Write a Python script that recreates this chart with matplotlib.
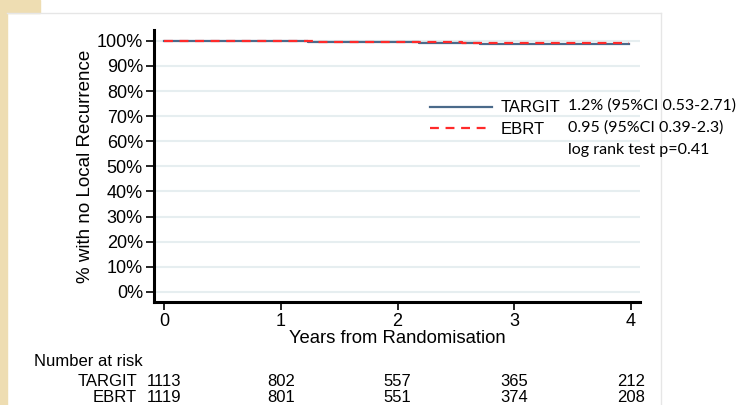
import matplotlib
matplotlib.use("Agg")
import matplotlib.pyplot as plt
from matplotlib.patches import Rectangle
from matplotlib.lines import Line2D

# Data
targit_t = [0, 1.23, 2.18, 2.62, 2.71, 3.98]
targit_s = [100, 99.7, 99.3, 99.0, 98.75, 98.75]
ebrt_t = [0, 1.31, 2.22, 2.55, 3.98]
ebrt_s = [100, 99.7, 99.4, 99.05, 99.05]
years = [0, 1, 2, 3, 4]
yticks = [0, 10, 20, 30, 40, 50, 60, 70, 80, 90, 100]
risk_targit = [1113, 802, 557, 365, 212]
risk_ebrt = [1119, 801, 551, 374, 208]
stats_lines = ["1.2% (95%CI 0.53-2.71)", "0.95 (95%CI 0.39-2.3)", "log rank test p=0.41"]

W, H = 743, 405
fig = plt.figure(figsize=(W / 100, H / 100), dpi=100)
fig.patch.set_facecolor("white")

def fx(px):
    return px / W

def fy(py):
    return 1 - py / H

# background decoration
beige = "#EEDDB2"
fig.patches.append(Rectangle((0, 0), fx(7), 1, transform=fig.transFigure, color=beige, zorder=0))
fig.patches.append(Rectangle((0, fy(13)), fx(40), 13 / H, transform=fig.transFigure, color=beige, zorder=0))
fig.lines.append(Line2D([fx(7), fx(661)], [fy(13), fy(13)], transform=fig.transFigure, color="#E6E6E6", lw=1))
fig.lines.append(Line2D([fx(661), fx(661)], [fy(13), 0], transform=fig.transFigure, color="#E6E6E6", lw=1))

ax = fig.add_axes([fx(154), fy(302), fx(640) - fx(154), fy(30) - fy(302)])
ax.set_facecolor("none")
ax.set_xlim(-0.0857, 4.077)
ax.set_ylim(-4.0, 104.3)

for v in yticks:
    ax.axhline(v, color="#E6EEF0", lw=1.5, zorder=1)

ax.step(targit_t, targit_s, where="post", color="#4A6A8A", lw=1.6, zorder=3, label="TARGIT")
ax.step(ebrt_t, ebrt_s, where="post", color="#FF2A2A", lw=1.6, ls=(0, (4, 3)), zorder=4, label="EBRT")

for s in ["top", "right"]:
    ax.spines[s].set_visible(False)
for s in ["left", "bottom"]:
    ax.spines[s].set_linewidth(2.2)
    ax.spines[s].set_color("black")

afont = "Liberation Sans"
ax.set_yticks(yticks)
ax.set_yticklabels([f"{v}%" for v in yticks], fontfamily=afont, fontsize=13)
ax.set_xticks(years)
ax.set_xticklabels([str(v) for v in years], fontfamily=afont, fontsize=13)
ax.tick_params(axis="both", direction="out", length=6, width=1.2, color="black")
ax.tick_params(axis="y", pad=2)
ax.tick_params(axis="x", pad=2)
ax.set_xlabel("Years from Randomisation", fontfamily=afont, fontsize=13.3, labelpad=0)
ax.set_ylabel("% with no Local Recurrence", fontfamily=afont, fontsize=13.5, labelpad=2)

# legend (manual)
fig.lines.append(Line2D([fx(430), fx(492)], [fy(107), fy(107)], transform=fig.transFigure, color="#4A6A8A", lw=1.6))
fig.lines.append(Line2D([fx(430), fx(492)], [fy(128), fy(128)], transform=fig.transFigure, color="#FF2A2A", lw=1.6, ls=(0, (4, 3))))
fig.text(fx(501), fy(107), "TARGIT", fontfamily=afont, fontsize=12, va="center", ha="left")
fig.text(fx(501), fy(129), "EBRT", fontfamily=afont, fontsize=12, va="center", ha="left")

sfont = "Lato"
for i, line in enumerate(stats_lines):
    fig.text(fx(568), fy(106 + 22 * i), line, fontfamily=sfont, fontsize=11.5, va="center", ha="left")

# number at risk table
fig.text(fx(34), fy(361), "Number at risk", fontfamily=afont, fontsize=12, va="center", ha="left")
fig.text(fx(137), fy(381), "TARGIT", fontfamily=afont, fontsize=12, va="center", ha="right")
fig.text(fx(137), fy(398), "EBRT", fontfamily=afont, fontsize=12, va="center", ha="right")
for t, a, b in zip(years, risk_targit, risk_ebrt):
    xf = ax.transData.transform((t, 0))[0]
    xfig = fig.transFigure.inverted().transform((xf, 0))[0]
    fig.text(xfig, fy(381), str(a), fontfamily=afont, fontsize=12, va="center", ha="center")
    fig.text(xfig, fy(398), str(b), fontfamily=afont, fontsize=12, va="center", ha="center")

fig.savefig("out.png", dpi=100)
